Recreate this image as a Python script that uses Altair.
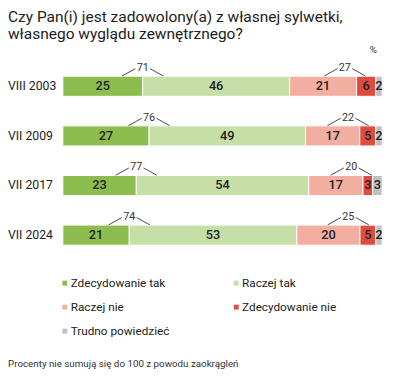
import altair as alt
import pandas as pd

# ---- data -------------------------------------------------------------
rows = ["VIII 2003", "VII 2009", "VII 2017", "VII 2024"]
categories = ["Zdecydowanie tak", "Raczej tak", "Raczej nie",
              "Zdecydowanie nie", "Trudno powiedzieć"]
zdecydowanie_tak = [25, 27, 23, 21]
raczej_tak = [46, 49, 54, 53]
raczej_nie = [21, 17, 17, 20]
zdecydowanie_nie = [6, 5, 3, 5]
trudno_powiedziec = [2, 2, 3, 2]
razem_tak = [71, 76, 77, 74]
razem_nie = [27, 22, 20, 25]
colors = ["#8dbd4f", "#c5dfa6", "#f2afa1", "#e04b3f", "#c0c0c0"]

title_lines = ["Czy Pan(i) jest zadowolony(a) z własnej sylwetki,",
               "własnego wyglądu zewnętrznego?"]
footnote = "Procenty nie sumują się do 100 z powodu zaokrągleń"

# ---- layout (pixels) -------------------------------------------------
W, H = 389, 374
X0, X1 = 56, 382
Y0, Y1 = 76, 228
UX = (X1 - X0) / 100.0
UY = (Y1 - Y0) / 3.0
FONT = "Roboto"

series = [zdecydowanie_tak, raczej_tak, raczej_nie, zdecydowanie_nie, trudno_powiedziec]

seg_records = []
chev_lines = []
chev_labels = []
row_records = []
for i, r in enumerate(rows):
    vals = [s[i] for s in series]
    total = float(sum(vals))
    cum = 0.0
    ends = []
    for cat, v in zip(categories, vals):
        start = cum / total * 100
        cum += v
        end = cum / total * 100
        ends.append(end)
        seg_records.append(dict(row=i, cat=cat, val=v, x0=start, x1=end,
                                xm=(start + end) / 2,
                                yt=i - 10.25 / UY, yb=i + 10.25 / UY))
    row_records.append(dict(row=i, label=r))
    centers = [(ends[0], razem_tak[i]), (ends[2] - 12 / UX, razem_nie[i])]
    for c, lab in centers:
        chev_lines.append(dict(x=c - 21 / UX, y=i - 10.5 / UY,
                               x2=c - 7.5 / UX, y2=i - 18 / UY))
        chev_lines.append(dict(x=c + 7.5 / UX, y=i - 18 / UY,
                               x2=c + 21 / UX, y2=i - 10.5 / UY))
        chev_labels.append(dict(x=c, y=i - 18.5 / UY, label=str(lab)))

seg_df = pd.DataFrame(seg_records)
line_df = pd.DataFrame(chev_lines)
lab_df = pd.DataFrame(chev_labels)
row_df = pd.DataFrame(row_records)
one = pd.DataFrame({"k": [0]})

xs = alt.Scale(domain=[0, 100], range=[X0, X1], nice=False, zero=False)
ys = alt.Scale(domain=[0, 3], range=[Y0, Y1], nice=False, zero=False)

bars = alt.Chart(seg_df).mark_rect(stroke="white", strokeWidth=1).encode(
    x=alt.X("x0:Q", scale=xs, axis=None),
    x2="x1:Q",
    y=alt.Y("yt:Q", scale=ys, axis=None),
    y2="yb:Q",
    color=alt.Color("cat:N", scale=alt.Scale(domain=categories, range=colors),
                    sort=categories,
                    legend=alt.Legend(title=None, orient="none", legendX=52, legendY=271,
                                      direction="horizontal",
                                      columns=2, symbolType="square", symbolSize=25,
                                      symbolStrokeWidth=0, labelFontSize=12,
                                      labelFont=FONT, labelColor="#222",
                                      rowPadding=12.5, columnPadding=62, gridAlign="all",
                                      labelOffset=0, padding=0)),
)

bar_text = alt.Chart(seg_df).mark_text(fontSize=13, fontWeight=500, font=FONT, color="#222",
                                       baseline="middle", align="center").encode(
    x=alt.X("xm:Q", scale=xs, axis=None),
    y=alt.Y("row:Q", scale=ys, axis=None),
    text="val:Q",
)

chev = alt.Chart(line_df).mark_rule(color="#333", strokeWidth=0.9).encode(
    x=alt.X("x:Q", scale=xs, axis=None), x2="x2:Q",
    y=alt.Y("y:Q", scale=ys, axis=None), y2="y2:Q",
)

chev_text = alt.Chart(lab_df).mark_text(fontSize=11, font=FONT, color="#333",
                                        baseline="middle", align="center").encode(
    x=alt.X("x:Q", scale=xs, axis=None),
    y=alt.Y("y:Q", scale=ys, axis=None),
    text="label:N",
)

row_text = alt.Chart(row_df).mark_text(fontSize=12.5, font=FONT, color="#222",
                                       baseline="middle", align="left").encode(
    x=alt.value(0),
    y=alt.Y("row:Q", scale=ys, axis=None),
    text="label:N",
)

title = alt.Chart(one).mark_text(fontSize=15.8, font=FONT, color="#222", align="left",
                                 baseline="alphabetic", lineHeight=17.5).encode(
    x=alt.value(0), y=alt.value(10.5), text=alt.value(title_lines))

pct = alt.Chart(one).mark_text(fontSize=10, font=FONT, color="#333", align="center",
                               baseline="middle").encode(
    x=alt.value(373), y=alt.value(39), text=alt.value("%"))

foot = alt.Chart(one).mark_text(fontSize=10, font=FONT, color="#333", align="left",
                                baseline="alphabetic").encode(
    x=alt.value(0), y=alt.value(362.5), text=alt.value(footnote))

chart = alt.layer(bars, bar_text, chev, chev_text, row_text, title, pct, foot).properties(
    width=W, height=H,
    autosize=alt.AutoSizeParams(type="none"),
    padding=0,
).configure_view(stroke=None)

chart.save("out.html", embed_options={"renderer": "svg", "actions": False})
